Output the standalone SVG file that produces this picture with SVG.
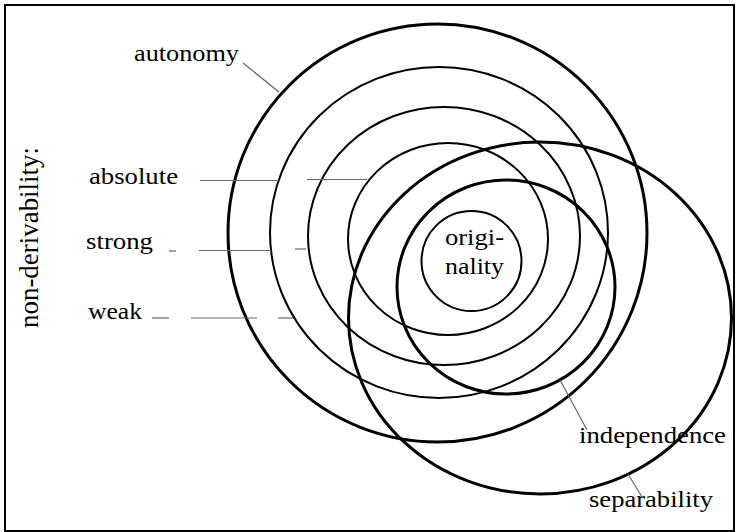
<svg xmlns="http://www.w3.org/2000/svg" width="736" height="532" viewBox="0 0 736 532">
<style>
.thick{fill:none;stroke:#000;stroke-width:3}
.thin{fill:none;stroke:#000;stroke-width:2}
.lead{fill:none;stroke:#666;stroke-width:1.2}
text{font-family:'Liberation Serif','DejaVu Serif','Times New Roman',serif;font-size:24px;fill:#000}
</style>
<rect x="5" y="5" width="729" height="526" fill="#fff" stroke="#000" stroke-width="2"/>
<g id="autonomy-circle"><ellipse class="thick" cx="437.5" cy="233" rx="209.5" ry="209"/></g>
<g id="ring-2"><ellipse class="thin" cx="439" cy="232.5" rx="169" ry="165.5"/></g>
<g id="ring-3"><ellipse class="thin" cx="444" cy="236" rx="136" ry="129"/></g>
<g id="ring-4"><ellipse class="thin" cx="448" cy="239" rx="100" ry="96"/></g>
<g id="originality"><circle class="thin" cx="471.5" cy="261" r="50"/>
<text x="445" y="245" textLength="59" lengthAdjust="spacingAndGlyphs">origi-</text>
<text x="445" y="274" textLength="59" lengthAdjust="spacingAndGlyphs">nality</text></g>
<g id="independence-circle"><ellipse class="thick" cx="506" cy="287" rx="109" ry="107"/></g>
<g id="separability-ellipse"><ellipse class="thick" cx="540" cy="318" rx="191.5" ry="176"/></g>
<g id="connectors">
<line class="lead" x1="243" y1="63" x2="279" y2="92"/>
<line class="lead" x1="560" y1="380" x2="587" y2="430"/>
<line class="lead" x1="628" y1="474" x2="642" y2="497"/>
<line class="lead" x1="200" y1="180.5" x2="279" y2="180.5"/>
<line class="lead" x1="307" y1="179.5" x2="367" y2="179.5"/>
<line class="lead" x1="169" y1="251" x2="176" y2="251"/>
<line class="lead" x1="199" y1="250.5" x2="271" y2="250.5"/>
<line class="lead" x1="295" y1="249" x2="306" y2="249"/>
<line class="lead" x1="152" y1="318" x2="169" y2="318"/>
<line class="lead" x1="191" y1="318" x2="257" y2="318"/>
<line class="lead" x1="278" y1="318" x2="293" y2="318"/>
</g>
<g id="labels">
<text x="134" y="61" textLength="105" lengthAdjust="spacingAndGlyphs">autonomy</text>
<text x="89" y="184" textLength="89" lengthAdjust="spacingAndGlyphs">absolute</text>
<text x="86" y="249" textLength="67" lengthAdjust="spacingAndGlyphs">strong</text>
<text x="88" y="319" textLength="54" lengthAdjust="spacingAndGlyphs">weak</text>
<text x="579" y="443" textLength="147" lengthAdjust="spacingAndGlyphs">independence</text>
<text x="589" y="507" textLength="124" lengthAdjust="spacingAndGlyphs">separability</text>
<text transform="translate(38,328) rotate(-90)" x="0" y="0" style="font-size:28px" textLength="181" lengthAdjust="spacingAndGlyphs">non-derivability:</text>
</g>
</svg>
